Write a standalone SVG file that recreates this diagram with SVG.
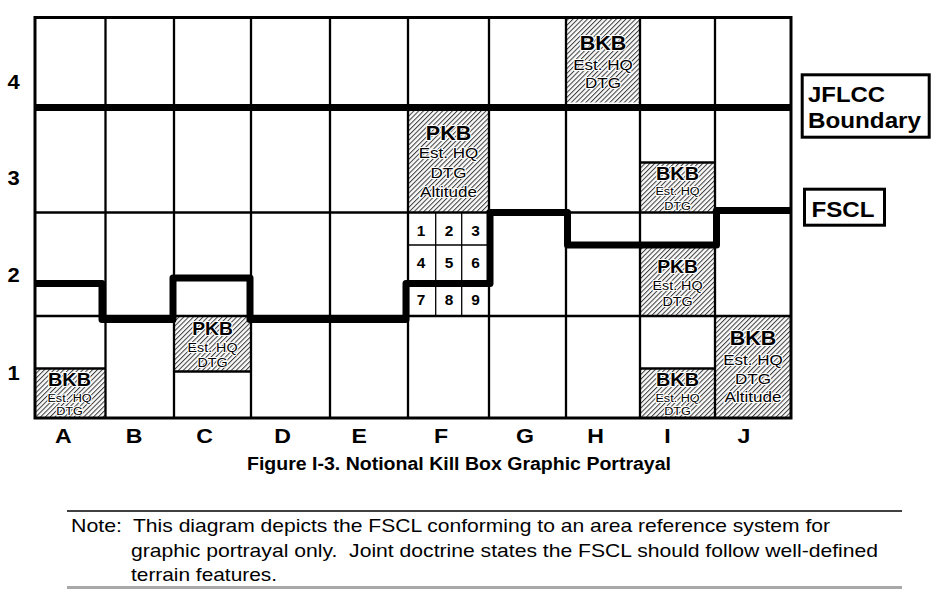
<svg xmlns="http://www.w3.org/2000/svg" width="943" height="596" viewBox="0 0 943 596">
<style>
text{font-family:"Liberation Sans",Arial,Helvetica,sans-serif;fill:#000}
.b{font-weight:bold}
.grid{stroke:#000;stroke-width:2.3;fill:none}
.thin{stroke:#000;stroke-width:1.3;fill:none}
.hatch{fill:url(#hatch)}
.halo{stroke:#fff;stroke-width:2;paint-order:stroke;stroke-linejoin:round}
.thick{fill:none;stroke:#000;stroke-width:7;stroke-linejoin:round}
.lbl{font-size:20px;font-weight:bold}
.col{font-size:21px;font-weight:bold}
.key{font-size:14px;font-weight:bold}
</style>
<defs>
<pattern id="hatch" patternUnits="userSpaceOnUse" width="3.4" height="3.4" patternTransform="rotate(45)">
<rect width="3.4" height="3.4" fill="#fafafa"/>
<rect width="1" height="3.4" fill="#3c3c3c"/>
</pattern>
</defs>
<rect width="943" height="596" fill="#fff"/>

<!-- hatched kill boxes (fills) -->
<g id="kb-H4"><rect class="hatch" x="566" y="17.5" width="74" height="85"/></g>
<g id="kb-F3"><rect class="hatch" x="408" y="107.5" width="81" height="105"/></g>
<g id="kb-I3"><rect class="hatch" x="640" y="162.5" width="75" height="50"/></g>
<g id="kb-I2"><rect class="hatch" x="640" y="245" width="75" height="71"/></g>
<g id="kb-C1"><rect class="hatch" x="174" y="316" width="77" height="55.5"/></g>
<g id="kb-A1"><rect class="hatch" x="35" y="368" width="70.5" height="50"/></g>
<g id="kb-I1"><rect class="hatch" x="640" y="368.5" width="75" height="49.5"/></g>
<g id="kb-J1"><rect class="hatch" x="715" y="316" width="76" height="102"/></g>

<!-- grid -->
<g id="grid" class="grid">
<line x1="105.5" y1="17.5" x2="105.5" y2="418"/>
<line x1="174" y1="17.5" x2="174" y2="418"/>
<line x1="251" y1="17.5" x2="251" y2="418"/>
<line x1="330" y1="17.5" x2="330" y2="418"/>
<line x1="408" y1="17.5" x2="408" y2="418"/>
<line x1="489" y1="17.5" x2="489" y2="418"/>
<line x1="566" y1="17.5" x2="566" y2="418"/>
<line x1="640" y1="17.5" x2="640" y2="418"/>
<line x1="715" y1="17.5" x2="715" y2="418"/>
<line x1="35" y1="212.5" x2="791" y2="212.5"/>
<line x1="35" y1="316" x2="791" y2="316"/>
<line x1="35" y1="368.5" x2="105.5" y2="368.5"/>
<line x1="174" y1="371.5" x2="251" y2="371.5"/>
<line x1="640" y1="162.5" x2="715" y2="162.5"/>
<line x1="640" y1="368.5" x2="715" y2="368.5"/>
</g>

<!-- keypad in F2 -->
<g id="keypad">
<line class="thin" x1="435.7" y1="212.5" x2="435.7" y2="316"/>
<line class="thin" x1="461.7" y1="212.5" x2="461.7" y2="316"/>
<line class="thin" x1="408" y1="245" x2="490" y2="245"/>
<g transform="scale(1.1 1)" class="key" text-anchor="middle">
<text x="382.7" y="236">1</text><text x="408.2" y="236">2</text><text x="432.3" y="236">3</text>
<text x="382.7" y="268.5">4</text><text x="408.2" y="268.5">5</text><text x="432.3" y="268.5">6</text>
<text x="382.7" y="305">7</text><text x="408.2" y="305">8</text><text x="432.3" y="305">9</text>
</g>
</g>

<!-- kill box labels -->
<g id="kb-H4-text" transform="translate(603 0) scale(1.1 1)" text-anchor="middle" class="halo">
<text x="0" y="50" class="b" font-size="19.5">BKB</text>
<text x="0" y="70" font-size="15.5">Est. HQ</text>
<text x="0" y="88" font-size="15.5">DTG</text>
</g>
<g id="kb-F3-text" transform="translate(448.5 0) scale(1.1 1)" text-anchor="middle" class="halo">
<text x="0" y="140" class="b" font-size="19.5">PKB</text>
<text x="0" y="158" font-size="15.5">Est. HQ</text>
<text x="0" y="178" font-size="15.5">DTG</text>
<text x="0" y="197" font-size="15.5">Altitude</text>
</g>
<g id="kb-I3-text" transform="translate(677.5 0) scale(1.1 1)" text-anchor="middle" class="halo">
<text x="0" y="180" class="b" font-size="18">BKB</text>
<text x="0" y="195" font-size="11.5">Est. HQ</text>
<text x="0" y="210" font-size="11.5">DTG</text>
</g>
<g id="kb-I2-text" transform="translate(677.5 0) scale(1.1 1)" text-anchor="middle" class="halo">
<text x="0" y="273" class="b" font-size="17.5">PKB</text>
<text x="0" y="290" font-size="13">Est. HQ</text>
<text x="0" y="306" font-size="13">DTG</text>
</g>
<g id="kb-C1-text" transform="translate(212.5 0) scale(1.1 1)" text-anchor="middle" class="halo">
<text x="0" y="335" class="b" font-size="17.5">PKB</text>
<text x="0" y="352" font-size="13">Est. HQ</text>
<text x="0" y="367" font-size="13">DTG</text>
</g>
<g id="kb-A1-text" transform="translate(69.5 0) scale(1.1 1)" text-anchor="middle" class="halo">
<text x="0" y="386" class="b" font-size="18">BKB</text>
<text x="0" y="402" font-size="11.5">Est. HQ</text>
<text x="0" y="415" font-size="11.5">DTG</text>
</g>
<g id="kb-I1-text" transform="translate(677.5 0) scale(1.1 1)" text-anchor="middle" class="halo">
<text x="0" y="386" class="b" font-size="18">BKB</text>
<text x="0" y="402" font-size="11.5">Est. HQ</text>
<text x="0" y="415" font-size="11.5">DTG</text>
</g>
<g id="kb-J1-text" transform="translate(753 0) scale(1.1 1)" text-anchor="middle" class="halo">
<text x="0" y="345.5" class="b" font-size="19.5">BKB</text>
<text x="0" y="365.5" font-size="15.5">Est. HQ</text>
<text x="0" y="384.5" font-size="15.5">DTG</text>
<text x="0" y="402" font-size="15.5">Altitude</text>
</g>

<!-- boundary lines -->
<g id="connectors">
<path id="jflcc-line" class="thick" d="M35 107.5 H791"/>
<path id="fscl-line" class="thick" d="M35 283.5 H102 V319.5 H173 V278 H250 V319.5 H406 V283.5 H490 V212.5 H567.5 V245 H716.5 V210.5 H791"/>
</g>

<!-- outer frame -->
<rect x="35" y="17.5" width="756" height="400.5" fill="none" stroke="#000" stroke-width="3"/>

<!-- right-side labels -->
<g id="label-jflcc">
<rect x="802.2" y="74.8" width="127" height="62.4" fill="#fff" stroke="#000" stroke-width="3"/>
<text x="808" y="101.5" class="b" font-size="22" textLength="77" lengthAdjust="spacingAndGlyphs">JFLCC</text>
<text x="808" y="128" class="b" font-size="22" textLength="113" lengthAdjust="spacingAndGlyphs">Boundary</text>
</g>
<g id="label-fscl">
<rect x="804.5" y="189.2" width="80" height="36" fill="#fff" stroke="#000" stroke-width="3"/>
<text x="811.5" y="216.5" class="b" font-size="22" textLength="63" lengthAdjust="spacingAndGlyphs">FSCL</text>
</g>

<!-- axis labels -->
<g id="row-labels" transform="scale(1.1 1)" class="lbl" text-anchor="middle">
<text x="12.3" y="89">4</text>
<text x="12.3" y="185">3</text>
<text x="12.3" y="282">2</text>
<text x="12.3" y="380">1</text>
</g>
<g id="col-labels" transform="scale(1.1 1)" class="col" text-anchor="middle">
<text x="57.5" y="443.5">A</text>
<text x="121.8" y="443.5">B</text>
<text x="186.1" y="443.5">C</text>
<text x="256.8" y="443.5">D</text>
<text x="326.6" y="443.5">E</text>
<text x="400.9" y="443.5">F</text>
<text x="477.3" y="443.5">G</text>
<text x="541.4" y="443.5">H</text>
<text x="606.8" y="443.5">I</text>
<text x="676.4" y="443.5">J</text>
</g>

<!-- caption -->
<text id="caption" x="247" y="469.5" class="b" font-size="17.6" textLength="424" lengthAdjust="spacingAndGlyphs">Figure I-3. Notional Kill Box Graphic Portrayal</text>

<!-- note -->
<g id="note">
<line x1="67" y1="511" x2="902" y2="511" stroke="#000" stroke-width="1.5"/>
<text x="71" y="532" font-size="18.5" textLength="51" lengthAdjust="spacingAndGlyphs">Note:</text>
<text x="133" y="532" font-size="18.5" textLength="697" lengthAdjust="spacingAndGlyphs">This diagram depicts the FSCL conforming to an area reference system for</text>
<text x="131" y="556.5" font-size="18.5" textLength="747" lengthAdjust="spacingAndGlyphs">graphic portrayal only.&#160; Joint doctrine states the FSCL should follow well-defined</text>
<text x="131" y="581" font-size="18.5" textLength="146" lengthAdjust="spacingAndGlyphs">terrain features.</text>
<line x1="67" y1="587.5" x2="902" y2="587.5" stroke="#a8a8a8" stroke-width="3"/>
</g>
</svg>
